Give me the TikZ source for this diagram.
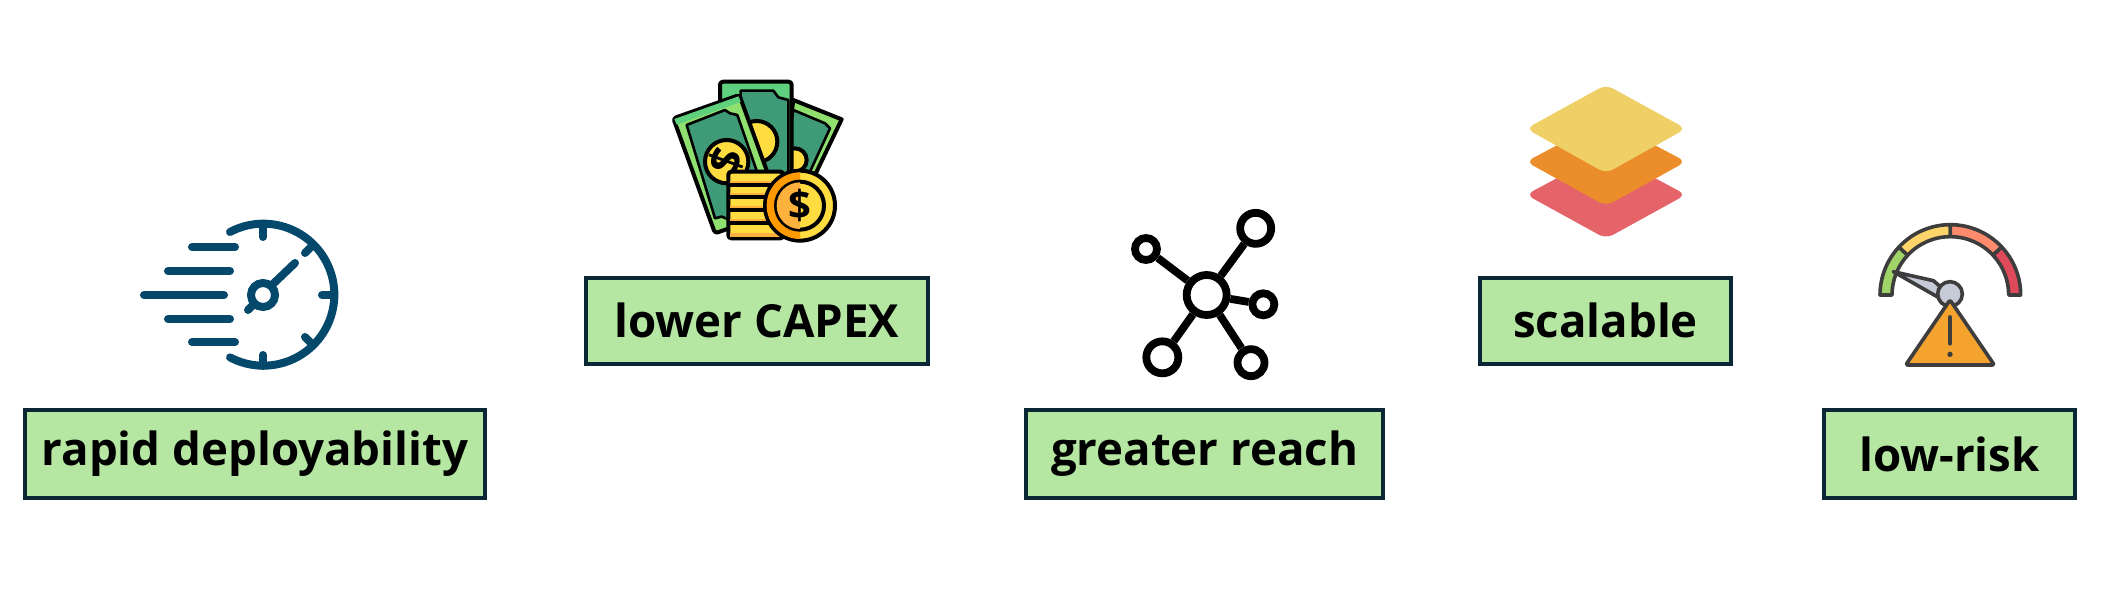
\documentclass[tikz,border=0pt]{standalone}
\usepackage{fontspec}
\setmainfont{Open Sans}
\usetikzlibrary{positioning}
\definecolor{boxgreen}{HTML}{B5E6A2}
\definecolor{boxedge}{HTML}{0B2635}
\definecolor{speedblue}{HTML}{04486B}
\definecolor{billdark}{HTML}{3F9A78}
\definecolor{billmid}{HTML}{5FD07E}
\definecolor{billlight}{HTML}{8FE06F}
\definecolor{coinyellow}{HTML}{FFDD40}
\definecolor{coinorange}{HTML}{FF9A00}
\definecolor{coinshade}{HTML}{FFB13D}
\definecolor{layeryellow}{HTML}{EED066}
\definecolor{layerorange}{HTML}{EB8D2B}
\definecolor{layerred}{HTML}{E56469}
\definecolor{gaugeline}{HTML}{3D3D3D}
\definecolor{gaugegreen}{HTML}{A0D468}
\definecolor{gaugeyellow}{HTML}{FFD56B}
\definecolor{gaugesalmon}{HTML}{FF8A6C}
\definecolor{gaugered}{HTML}{DF4A5A}
\definecolor{gaugegrey}{HTML}{C5CAD6}
\definecolor{warnorange}{HTML}{F4A32E}
\tikzset{
  labelbox/.style={draw=boxedge, fill=boxgreen, line width=2pt, inner sep=0pt, font=\fontsize{22.8}{26}\selectfont\bfseries},
  speedline/.style={draw=speedblue, line width=4pt, line cap=round},
  billline/.style={draw=black, line width=2pt, line join=round},
  panelline/.style={draw=black, line width=1.3pt, line join=round},
  hubnode/.style={circle, draw=black, fill=white, line width=3.9pt, inner sep=0pt},
  gaugeseg/.style={draw=gaugeline, line width=1.8pt, line join=round}
}
\begin{document}
\begin{tikzpicture}[x=0.5pt, y=-0.5pt]
    \useasboundingbox (0,0) rectangle (2113,609);

    % Labels
    \node (rapid) [labelbox, minimum width=230pt, minimum height=44pt] at (255,454) {rapid deployability};
    \node (capex) [labelbox, minimum width=171pt, minimum height=43pt] at (757,320.5) {lower CAPEX};
    \node (reach) [labelbox, minimum width=178.5pt, minimum height=44pt] at (1204.5,454) {greater reach};
    \node (scale) [labelbox, minimum width=125.5pt, minimum height=43pt] at (1605.5,320.5) {scalable};
    \node (risk) [labelbox, minimum width=125.5pt, minimum height=44pt] at (1949.5,454) {low-risk};

    % Stopwatch
    \draw [speedline] (230,232) arc[start angle=-118, end angle=118, radius=71];
    \draw [speedline] (192,247) -- (235,247);
    \draw [speedline] (168,271) -- (230,271);
    \draw [speedline] (144,295) -- (224,295);
    \draw [speedline] (168,319) -- (230,319);
    \draw [speedline] (192,342) -- (235,342);
    \draw [speedline] (263,224) -- (263,237);
    \draw [speedline] (263,366) -- (263,355);
    \draw [speedline] (334,295) -- (322,295);
    \draw [speedline] (313,245) -- (305,253);
    \draw [speedline] (313,345) -- (305,337);
    \draw [speedline] (263,295) circle (12);
    \draw [speedline] (273,284) -- (295,263);
    \draw [speedline] (254,304) -- (248,310);

    % Money
    \begin{scope}[shift={(650,60)}, scale=1/3]
        \draw [billline, fill=billlight] (430,120) -- (575,178) -- (495,345) -- (400,345) -- cycle;
        \draw [panelline, fill=billdark] (430,150) -- (525,190) -- (540,205) -- (480,335) -- (400,335) -- cycle;
        \draw [billline, fill=coinyellow] (435,300) circle (35);
        \draw [billline, fill=billmid, rounded corners=1.5pt] (210,65) rectangle (425,345);
        \draw [panelline, fill=billdark] (272,92) -- (370,92) -- (385,112) -- (415,120) -- (415,345) -- (272,345) -- cycle;
        \draw [billline, fill=coinyellow] (320,245) circle (62);
        \draw [billline, fill=billlight, rounded corners=1.5pt] (70,175) -- (268,105) -- (393,450) -- (195,520) -- cycle;
        \fill [billmid] (73,177) -- (266,109) -- (272,126) -- (80,194) -- cycle;
        \draw [panelline, fill=billdark] (110,195) -- (225,150) -- (240,160) -- (262,165) -- (357,439) -- (240,480) -- (215,470) -- (195,475) -- cycle;
        \draw [billline, fill=coinyellow] (230,305) circle (65);
        \node (billsign) [rotate=70, font=\fontsize{22}{22}\selectfont\bfseries] at (230,305) {\$};
        \draw [billline, fill=coinyellow, rounded corners=1.5pt] (235,335) rectangle (400,535);
        \fill [coinshade] (241,363) rectangle (394,375);
        \fill [coinshade] (241,398) rectangle (394,410);
        \fill [coinshade] (241,438) rectangle (394,450);
        \fill [coinshade] (241,478) rectangle (394,490);
        \fill [coinshade] (241,518) rectangle (394,530);
        \draw [billline] (235,375) -- (400,375);
        \draw [billline] (235,410) -- (400,410);
        \draw [billline] (235,450) -- (400,450);
        \draw [billline] (235,490) -- (400,490);
        \draw [billline, fill=coinyellow] (450,437) circle (105);
        \fill [coinorange] (450,337) arc[start angle=-90, end angle=-270, radius=100] -- cycle;
        \draw [billline, fill=coinyellow] (450,437) circle (72);
        \fill [coinshade] (450,367) arc[start angle=-90, end angle=-270, radius=70] -- cycle;
        \node (coinsign) [font=\fontsize{20}{20}\selectfont\bfseries] at (450,437) {\$};
    \end{scope}

    % Network
    \begin{scope}[shift={(1110,195)}, scale=1/3]
        \node (hub) [hubnode, minimum size=20pt] at (290,300) {};
        \node (nwleaf) [hubnode, minimum size=11pt] at (108,162) {};
        \node (neleaf) [hubnode, minimum size=15.5pt] at (437,100) {};
        \node (eleaf) [hubnode, minimum size=11pt] at (460,328) {};
        \node (swleaf) [hubnode, minimum size=16pt] at (157,487) {};
        \node (seleaf) [hubnode, minimum size=13.5pt] at (423,503) {};
        \draw [line width=3.9pt] (hub) -- (nwleaf);
        \draw [line width=3.9pt] (hub) -- (neleaf);
        \draw [line width=3.9pt] (hub) -- (eleaf);
        \draw [line width=3.9pt] (hub) -- (swleaf);
        \draw [line width=3.9pt] (hub) -- (seleaf);
    \end{scope}

    % Layers
    \begin{scope}[shift={(1510,70)}, scale=1/3]
        \fill [layerred, rounded corners=4pt] (288,246) -- (528,374) -- (288,506) -- (48,374) -- cycle;
        \fill [layerorange, rounded corners=4pt] (288,148) -- (528,275) -- (288,408) -- (48,275) -- cycle;
        \fill [layeryellow, rounded corners=4pt] (288,44) -- (528,176) -- (288,310) -- (48,176) -- cycle;
    \end{scope}

    % Gauge
    \begin{scope}[shift={(1860,210)}, scale=1/3]
        \begin{scope}[shift={(271,255)}]
            \draw [gaugeseg, fill=gaugegreen] (-180:211) arc[start angle=-180, end angle=-137, radius=211] -- (-137:175) arc[start angle=-137, end angle=-180, radius=175] -- cycle;
            \draw [gaugeseg, fill=gaugeyellow] (-137:211) arc[start angle=-137, end angle=-90, radius=211] -- (-90:175) arc[start angle=-90, end angle=-137, radius=175] -- cycle;
            \draw [gaugeseg, fill=gaugesalmon] (-90:211) arc[start angle=-90, end angle=-43, radius=211] -- (-43:175) arc[start angle=-43, end angle=-90, radius=175] -- cycle;
            \draw [gaugeseg, fill=gaugered] (-43:211) arc[start angle=-43, end angle=0, radius=211] -- (0:175) arc[start angle=0, end angle=-43, radius=175] -- cycle;
        \end{scope}
        \draw [gaugeseg, fill=gaugegrey] (100,185) -- (220,212) -- (270,255) -- (240,265) -- cycle;
        \draw [gaugeseg, fill=gaugegrey] (270,252) circle (37);
        \draw [gaugeseg, fill=warnorange, rounded corners=1pt] (270,270) -- (403,465) -- (137,465) -- cycle;
        \draw [gaugeseg, line width=2.3pt, line cap=round] (270,322) -- (270,400);
        \fill [gaugeline] (270,433) circle (8);
    \end{scope}
\end{tikzpicture}
\end{document}
